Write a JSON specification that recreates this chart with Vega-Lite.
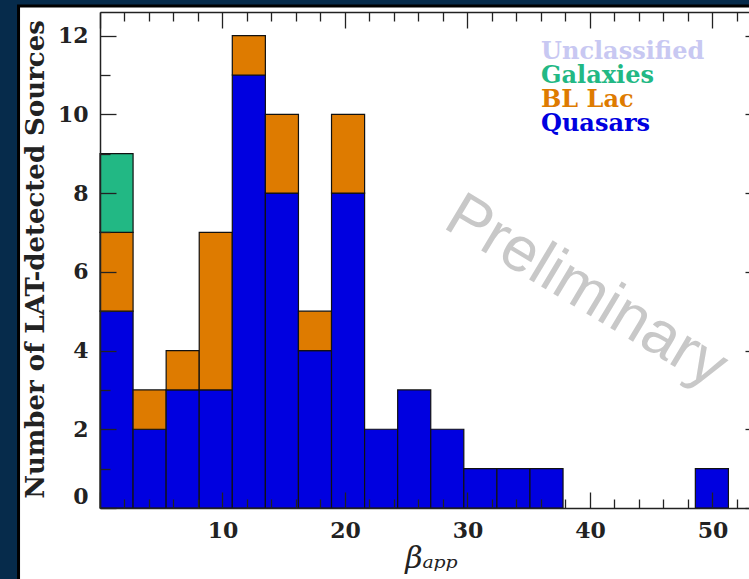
{
  "$schema": "https://vega.github.io/schema/vega-lite/v6.json",
  "width": 649,
  "height": 496,
  "autosize": {"type": "none"},
  "padding": {"left": 100, "top": 12, "right": 0, "bottom": 71},
  "background": "#062b4b",
  "config": {
    "view": {"stroke": null},
    "axis": {
      "grid": false,
      "domainColor": "#222222",
      "domainWidth": 1.5,
      "tickColor": "#222222",
      "tickWidth": 1.3,
      "labelColor": "#222222",
      "titleColor": "#222222",
      "labelOverlap": false,
      "labelFlush": false,
      "labelFont": "DejaVu Serif",
      "labelFontWeight": "bold",
      "labelFontSize": 22
    }
  },
  "data": {
    "values": [
      {"lo": 0.0, "hi": 2.7, "cls": "Quasars", "n": 5},
      {"lo": 0.0, "hi": 2.7, "cls": "BL Lac", "n": 2},
      {"lo": 0.0, "hi": 2.7, "cls": "Galaxies", "n": 2},
      {"lo": 2.7, "hi": 5.4, "cls": "Quasars", "n": 2},
      {"lo": 2.7, "hi": 5.4, "cls": "BL Lac", "n": 1},
      {"lo": 5.4, "hi": 8.1, "cls": "Quasars", "n": 3},
      {"lo": 5.4, "hi": 8.1, "cls": "BL Lac", "n": 1},
      {"lo": 8.1, "hi": 10.8, "cls": "Quasars", "n": 3},
      {"lo": 8.1, "hi": 10.8, "cls": "BL Lac", "n": 4},
      {"lo": 10.8, "hi": 13.5, "cls": "Quasars", "n": 11},
      {"lo": 10.8, "hi": 13.5, "cls": "BL Lac", "n": 1},
      {"lo": 13.5, "hi": 16.2, "cls": "Quasars", "n": 8},
      {"lo": 13.5, "hi": 16.2, "cls": "BL Lac", "n": 2},
      {"lo": 16.2, "hi": 18.9, "cls": "Quasars", "n": 4},
      {"lo": 16.2, "hi": 18.9, "cls": "BL Lac", "n": 1},
      {"lo": 18.9, "hi": 21.6, "cls": "Quasars", "n": 8},
      {"lo": 18.9, "hi": 21.6, "cls": "BL Lac", "n": 2},
      {"lo": 21.6, "hi": 24.3, "cls": "Quasars", "n": 2},
      {"lo": 24.3, "hi": 27.0, "cls": "Quasars", "n": 3},
      {"lo": 27.0, "hi": 29.7, "cls": "Quasars", "n": 2},
      {"lo": 29.7, "hi": 32.4, "cls": "Quasars", "n": 1},
      {"lo": 32.4, "hi": 35.1, "cls": "Quasars", "n": 1},
      {"lo": 35.1, "hi": 37.8, "cls": "Quasars", "n": 1},
      {"lo": 48.6, "hi": 51.3, "cls": "Quasars", "n": 1}
    ]
  },
  "resolve": {"axis": {"x": "independent", "y": "independent"}},
  "layer": [
    {
      "data": {"values": [{"panel": "frame"}]},
      "mark": {"type": "rect", "fill": "#ffffff", "stroke": "#000000", "strokeWidth": 3},
      "encoding": {
        "x": {"datum": -6.65, "type": "quantitative", "scale": {"domain": [0, 52.98], "nice": false, "zero": false}, "axis": null},
        "x2": {"datum": 80},
        "y": {"datum": 12.752, "type": "quantitative", "scale": {"domain": [0, 12.6], "nice": false, "zero": false}, "axis": null},
        "y2": {"datum": -6}
      }
    },
    {
      "transform": [
        {"calculate": "indexof(['Quasars','BL Lac','Galaxies','Unclassified'], datum.cls)", "as": "stackRank"},
        {"stack": "n", "groupby": ["lo"], "sort": [{"field": "stackRank", "order": "ascending"}], "as": ["y0", "y1"]}
      ],
      "mark": {"type": "bar", "stroke": "#111111", "strokeWidth": 1.2},
      "encoding": {
        "x": {
          "field": "lo", "type": "quantitative",
          "scale": {"domain": [0, 52.98], "nice": false, "zero": false},
          "axis": {
            "orient": "bottom",
            "zindex": 2,
            "values": [0, 2, 4, 6, 8, 10, 12, 14, 16, 18, 20, 22, 24, 26, 28, 30, 32, 34, 36, 38, 40, 42, 44, 46, 48, 50, 52],
            "tickSize": {"condition": {"test": "datum.value % 10 === 0", "value": -16}, "value": -9},
            "labelExpr": "datum.value % 10 === 0 && datum.value > 0 ? datum.label : ''",
            "labelPadding": 28,
            "labelBaseline": "top",
            "title": "βₐₚₚ",
            "titleX": 331,
            "titleY": 59,
            "titleAlign": "center",
            "titleBaseline": "alphabetic",
            "titleFont": "DejaVu Serif",
            "titleFontStyle": "italic",
            "titleFontWeight": "normal",
            "titleFontSize": 30
          }
        },
        "x2": {"field": "hi"},
        "y": {
          "field": "y0", "type": "quantitative",
          "scale": {"domain": [0, 12.6], "nice": false, "zero": false},
          "axis": {
            "orient": "left",
            "zindex": 2,
            "values": [0, 1, 2, 3, 4, 5, 6, 7, 8, 9, 10, 11, 12],
            "tickSize": {"condition": {"test": "datum.value % 2 === 0", "value": -16}, "value": -10},
            "labelExpr": "datum.value % 2 === 0 ? datum.label : ''",
            "labelPadding": 28,
            "labelOffset": {"condition": {"test": "datum.value === 0", "value": -12}, "value": 0},
            "labelAlign": "right",
            "labelBaseline": "middle",
            "title": "Number of LAT-detected Sources",
            "titleX": -57,
            "titleY": 247,
            "titleAngle": -90,
            "titleAlign": "center",
            "titleBaseline": "alphabetic",
            "titleFont": "DejaVu Serif",
            "titleFontWeight": "bold",
            "titleFontSize": 26
          }
        },
        "y2": {"field": "y1"},
        "color": {
          "field": "cls", "type": "nominal",
          "scale": {
            "domain": ["Unclassified", "Galaxies", "BL Lac", "Quasars"],
            "range": ["#c8c8f2", "#22b884", "#de7b00", "#0000e0"]
          },
          "legend": {
            "orient": "none",
            "legendX": 417,
            "legendY": 28,
            "title": null,
            "symbolSize": 0,
            "symbolOpacity": 0,
            "symbolStrokeWidth": 0,
            "labelOffset": 0,
            "labelFont": "DejaVu Serif",
            "labelFontWeight": "bold",
            "labelFontSize": 24,
            "labelLimit": 400,
            "labelColor": {"expr": "scale('color', datum.value)"},
            "rowPadding": 0,
            "padding": 0
          }
        }
      }
    },
    {
      "data": {"values": [{"note": "Preliminary"}]},
      "mark": {"type": "text", "angle": 31, "font": "Liberation Sans", "fontSize": 63, "fill": "#c8c8c8", "align": "center", "baseline": "middle"},
      "encoding": {
        "text": {"field": "note"},
        "x": {
          "datum": 39.7, "type": "quantitative",
          "scale": {"domain": [0, 52.98], "nice": false, "zero": false},
          "axis": {
            "orient": "top",
            "zindex": 2,
            "values": [0, 2, 4, 6, 8, 10, 12, 14, 16, 18, 20, 22, 24, 26, 28, 30, 32, 34, 36, 38, 40, 42, 44, 46, 48, 50, 52],
            "tickSize": {"condition": {"test": "datum.value % 10 === 0", "value": -16}, "value": -9},
            "labels": false,
            "title": null
          }
        },
        "y": {
          "datum": 5.5, "type": "quantitative",
          "scale": {"domain": [0, 12.6], "nice": false, "zero": false},
          "axis": {
            "orient": "right",
            "zindex": 2,
            "offset": 12,
            "values": [0, 1, 2, 3, 4, 5, 6, 7, 8, 9, 10, 11, 12],
            "tickSize": {"condition": {"test": "datum.value % 2 === 0", "value": -16}, "value": -10},
            "labels": false,
            "title": null
          }
        }
      }
    }
  ]
}
